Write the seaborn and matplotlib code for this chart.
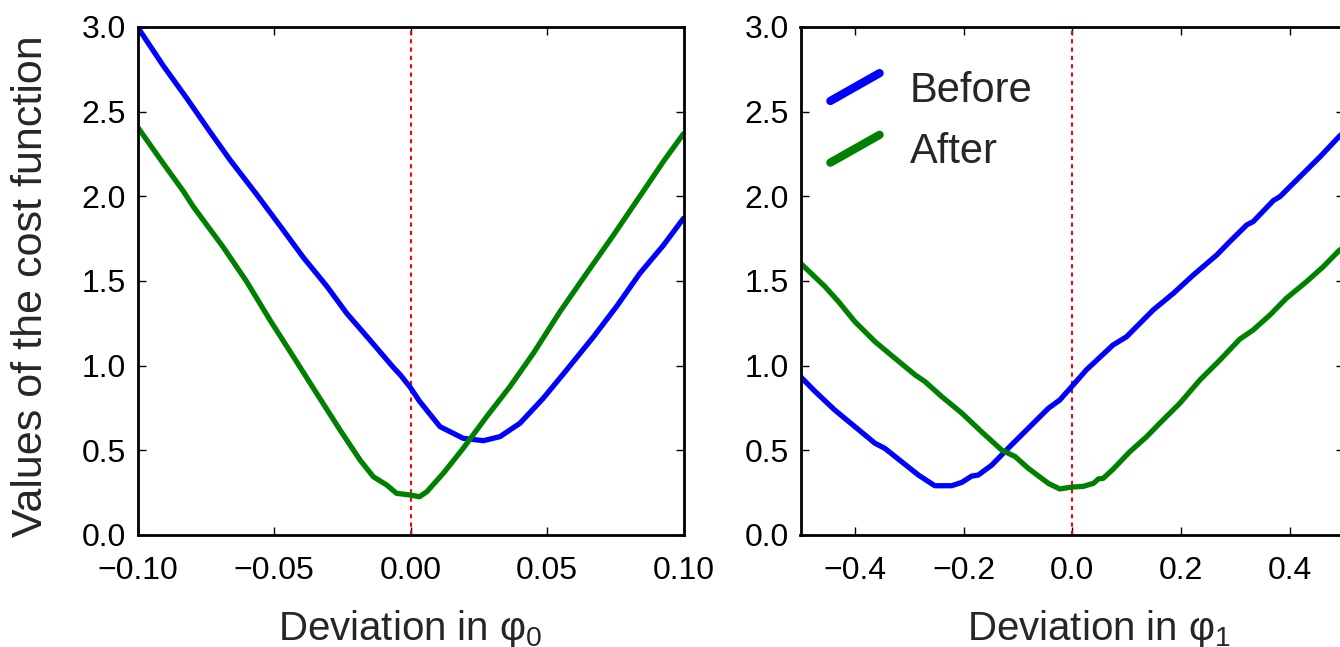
import pandas as pd
import matplotlib
matplotlib.use('Agg')
import matplotlib.pyplot as plt
from matplotlib.legend_handler import HandlerLine2D
from matplotlib.lines import Line2D
import seaborn as sb

# values
phi0_before_x = [-0.100, -0.0905, -0.082, -0.0734, -0.0661, -0.0563, -0.0466, -0.0393, -0.0307,
                 -0.0234, -0.0148, -0.0063, -0.0037, 0.000, 0.0033, 0.0108, 0.0193, 0.0267,
                 0.0328, 0.0401, 0.0486, 0.0572, 0.067, 0.0755, 0.084, 0.0926, 0.100]
phi0_before_y = [3.00, 2.77, 2.58, 2.38, 2.215, 2.01, 1.80, 1.64, 1.47,
                 1.31, 1.15, 0.99, 0.945, 0.87, 0.79, 0.64, 0.571, 0.557,
                 0.581, 0.66, 0.807, 0.975, 1.17, 1.35, 1.545, 1.71, 1.87]
phi0_after_x = [-0.100, -0.0906, -0.0832, -0.0796, -0.0686, -0.060, -0.0515, -0.0429, -0.0344,
                -0.0258, -0.0185, -0.0136, -0.0087, -0.0051, 0.000, 0.0033, 0.006, 0.012,
                0.0193, 0.0279, 0.0364, 0.045, 0.0548, 0.0645, 0.0743, 0.084, 0.0926, 0.100]
phi0_after_y = [2.41, 2.195, 2.03, 1.94, 1.70, 1.496, 1.27, 1.053, 0.837,
                0.62, 0.443, 0.344, 0.295, 0.246, 0.236, 0.226, 0.256, 0.364,
                0.512, 0.699, 0.876, 1.073, 1.32, 1.545, 1.77, 2.00, 2.205, 2.37]

phi1_before_x = [-0.500, -0.473, -0.437, -0.400, -0.363, -0.345, -0.314, -0.283, -0.253,
                 -0.222, -0.203, -0.185, -0.173, -0.148, -0.118, -0.081, -0.044, -0.023,
                 0.000, 0.026, 0.075, 0.100, 0.149, 0.186, 0.223, 0.266, 0.290, 0.321,
                 0.333, 0.370, 0.382, 0.419, 0.456, 0.491, 0.500]
phi1_before_y = [0.935, 0.847, 0.738, 0.64, 0.542, 0.512, 0.433, 0.354, 0.291,
                 0.291, 0.311, 0.348, 0.354, 0.413, 0.512, 0.630, 0.748, 0.797,
                 0.88, 0.975, 1.122, 1.171, 1.329, 1.427, 1.536, 1.654, 1.733, 1.831,
                 1.851, 1.975, 1.998, 2.116, 2.234, 2.353, 2.38]
phi1_after_x = [-0.500, -0.455, -0.430, -0.400, -0.363, -0.326, -0.289, -0.271, -0.240,
                -0.203, -0.167, -0.130, -0.105, -0.081, -0.044, -0.023, -0.001, 0.020,
                0.039, 0.048, 0.057, 0.075, 0.106, 0.137, 0.161, 0.198, 0.235, 0.272,
                0.308, 0.333, 0.364, 0.394, 0.431, 0.462, 0.491, 0.500]
phi1_after_y = [1.605, 1.467, 1.378, 1.26, 1.142, 1.043, 0.945, 0.906, 0.817,
                0.719, 0.61, 0.502, 0.463, 0.394, 0.305, 0.272, 0.283, 0.287,
                0.305, 0.331, 0.335, 0.388, 0.492, 0.581, 0.66, 0.778, 0.916, 1.034,
                1.156, 1.211, 1.30, 1.398, 1.496, 1.585, 1.68, 1.70]

series_names = ["Before", "After"]
series_colors = {"Before": "blue", "After": "green"}
phi0_ticks = [-0.10, -0.05, 0.00, 0.05, 0.10]
phi1_ticks = [-0.4, -0.2, 0.0, 0.2, 0.4]
y_ticks = [0.0, 0.5, 1.0, 1.5, 2.0, 2.5, 3.0]


def long_form(bx, by, ax_, ay):
    return pd.concat([
        pd.DataFrame({"x": bx, "y": by, "run": "Before"}),
        pd.DataFrame({"x": ax_, "y": ay, "run": "After"}),
    ], ignore_index=True)


phi0 = long_form(phi0_before_x, phi0_before_y, phi0_after_x, phi0_after_y)
phi1 = long_form(phi1_before_x, phi1_before_y, phi1_after_x, phi1_after_y)

# style
sb.set_style("ticks")
plt.rcParams['font.family'] = ['Liberation Sans', 'DejaVu Sans']
plt.rcParams['mathtext.default'] = 'regular'
plt.rcParams['axes.unicode_minus'] = True
text_col = '#262626'


class SlantedLine(HandlerLine2D):
    # legend handle drawn as a diagonal stroke
    def create_artists(self, legend, orig_handle, xdescent, ydescent,
                       width, height, fontsize, trans):
        ln = Line2D([-xdescent, width - xdescent], [-ydescent, height - ydescent],
                    color=orig_handle.get_color(), lw=6, solid_capstyle='round')
        ln.set_transform(trans)
        return [ln]


fig = plt.figure(figsize=(13.40, 6.47), dpi=100)
ax0 = fig.add_axes([137.5 / 1340, 112 / 647, 546 / 1340, 508 / 647])
ax1 = fig.add_axes([800.5 / 1340, 112 / 647, 543.5 / 1340, 508 / 647])

for ax, df, xlim, xticks, sub, xlab_x in [
    (ax0, phi0, (-0.1, 0.1), phi0_ticks, "0", 0.5),
    (ax1, phi1, (-0.5, 0.5), phi1_ticks, "1", 0.549),
]:
    sb.lineplot(data=df, x="x", y="y", hue="run", hue_order=series_names,
                palette=series_colors, sort=False, lw=3.8, legend=False, ax=ax)
    ax.axvline(0, color='red', ls=(0, (2, 2)), lw=1.5, zorder=1)
    ax.set_xlim(*xlim)
    ax.set_ylim(0, 3)
    ax.set_xticks(xticks)
    ax.set_yticks(y_ticks)
    ax.tick_params(direction='in', top=True, right=True, length=6, width=1,
                   labelsize=23, colors='black')
    ax.tick_params(axis='x', pad=15)
    ax.tick_params(axis='y', pad=8.5)
    for s in ax.spines.values():
        s.set_color('black')
        s.set_linewidth(2.0)
    ax.set_xlabel("Deviation in φ$_{%s}$" % sub, fontsize=29, color=text_col)
    ax.xaxis.set_label_coords(xlab_x, -0.143)
    ax.set_ylabel("")

ax0.set_ylabel("Values of the cost function", fontsize=31, color=text_col)
ax0.yaxis.set_label_coords(-0.158, 0.49)

handles = [Line2D([], [], color=series_colors[n]) for n in series_names]
ax1.legend(handles, series_names, loc='upper left', bbox_to_anchor=(0.055, 0.914),
           frameon=False, fontsize=30, handlelength=1.18, handleheight=0.65,
           handletextpad=0.72, labelspacing=0.52, borderpad=0, borderaxespad=0,
           labelcolor=text_col, handler_map={Line2D: SlantedLine()})

fig.savefig("out.png", dpi=100)
